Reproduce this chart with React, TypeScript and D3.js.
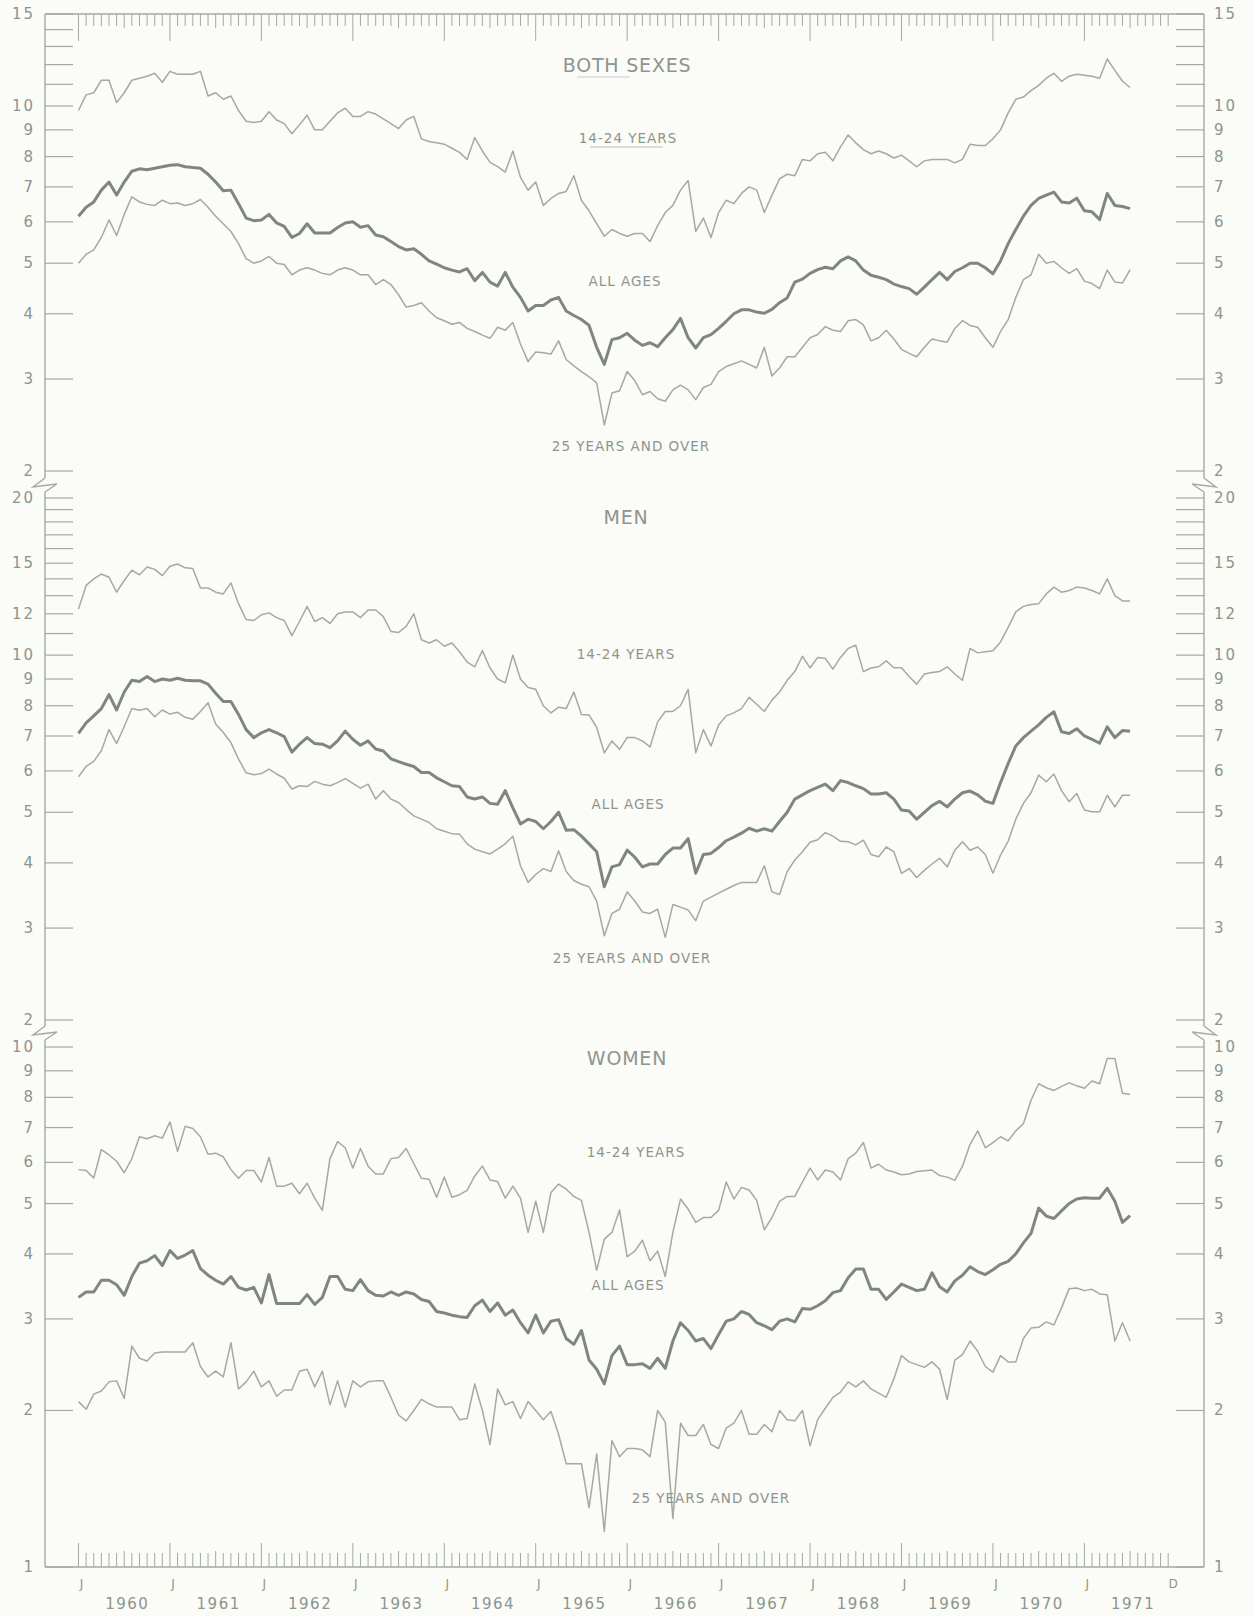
import React from "react";
import * as d3 from "d3";

// Monthly unemployment rates (per cent), index 0 = Jan 1960 ... 138 = Jul 1971
const YEARS = [1960, 1961, 1962, 1963, 1964, 1965, 1966, 1967, 1968, 1969, 1970, 1971];
const LAST_AXIS_MONTH = 143; // Dec 1971

const BS_YOUTH = [
  9.8, 10.5, 10.6, 11.2, 11.2, 10.15, 10.6, 11.2, 11.3, 11.4, 11.55, 11.1,
  11.65, 11.5, 11.5, 11.5, 11.65, 10.45, 10.6, 10.3, 10.45, 9.8, 9.35, 9.3,
  9.35, 9.75, 9.4, 9.25, 8.85, 9.2, 9.6, 9.0, 9.0, 9.35, 9.7, 9.9,
  9.55, 9.55, 9.75, 9.65, 9.45, 9.25, 9.05, 9.4, 9.55, 8.65, 8.55, 8.5,
  8.45, 8.3, 8.15, 7.9, 8.7, 8.2, 7.8, 7.65, 7.47, 8.2, 7.3, 6.9,
  7.15, 6.45, 6.65, 6.8, 6.86, 7.35, 6.6, 6.3, 5.95, 5.63, 5.8, 5.7,
  5.63, 5.7, 5.7, 5.5, 5.9, 6.25, 6.45, 6.9, 7.2, 5.75, 6.1, 5.6,
  6.25, 6.6, 6.5, 6.8, 7.0, 6.9, 6.25, 6.75, 7.25, 7.4, 7.35, 7.9,
  7.85, 8.1, 8.15, 7.85, 8.35, 8.8, 8.5, 8.25, 8.1, 8.2, 8.1, 7.95,
  8.05, 7.85, 7.65, 7.85, 7.9, 7.9, 7.9, 7.78, 7.9, 8.45, 8.4, 8.4,
  8.65, 9.0, 9.7, 10.3, 10.4, 10.7, 10.95, 11.3, 11.55, 11.15, 11.4, 11.5,
  11.45, 11.4, 11.3, 12.3, 11.7, 11.15, 10.85,
];
const BS_ALL = [
  6.15, 6.4, 6.55, 6.9, 7.15, 6.75, 7.15, 7.5, 7.58, 7.55, 7.6, 7.65,
  7.7, 7.72, 7.65, 7.62, 7.6, 7.4, 7.15, 6.88, 6.9, 6.5, 6.1, 6.03,
  6.05, 6.2, 5.97, 5.88, 5.6, 5.7, 5.95, 5.71, 5.71, 5.71, 5.85, 5.97,
  6.0, 5.86, 5.9, 5.66, 5.62, 5.5, 5.38, 5.3, 5.33, 5.2, 5.05, 4.98,
  4.9, 4.85, 4.81, 4.88, 4.63, 4.8, 4.6, 4.52, 4.8, 4.5, 4.3, 4.05,
  4.15, 4.15, 4.25, 4.3, 4.05, 3.97, 3.9, 3.8, 3.45, 3.2, 3.57, 3.6,
  3.67, 3.56, 3.48, 3.52, 3.46, 3.6, 3.73, 3.92, 3.6, 3.44, 3.6, 3.65,
  3.75, 3.87, 4.0, 4.07, 4.07, 4.03, 4.01, 4.08, 4.2, 4.29, 4.6, 4.66,
  4.78, 4.86, 4.91, 4.88, 5.05, 5.14, 5.05, 4.85, 4.74, 4.7, 4.65, 4.56,
  4.51, 4.47, 4.36, 4.5, 4.65, 4.8, 4.65, 4.82, 4.9, 5.0, 5.0, 4.9,
  4.77, 5.05, 5.45, 5.8, 6.15, 6.45, 6.65, 6.75, 6.84, 6.55, 6.52, 6.66,
  6.3, 6.27, 6.06, 6.8, 6.45, 6.42, 6.36,
];
const BS_OLD = [
  5.0, 5.2, 5.3, 5.6, 6.05, 5.65, 6.2, 6.7, 6.55, 6.48, 6.45, 6.6,
  6.5, 6.52, 6.45, 6.5, 6.62, 6.4, 6.15, 5.95, 5.75, 5.45, 5.1, 5.0,
  5.05, 5.15, 5.0, 4.97, 4.75, 4.85, 4.9, 4.85, 4.78, 4.75, 4.85, 4.9,
  4.85, 4.75, 4.75, 4.55, 4.65, 4.55, 4.35, 4.12, 4.15, 4.2, 4.05, 3.93,
  3.88, 3.82, 3.85, 3.75, 3.7, 3.64, 3.59, 3.77, 3.72, 3.85, 3.5, 3.24,
  3.38, 3.37, 3.35, 3.55, 3.27, 3.18, 3.1, 3.03, 2.95, 2.45, 2.82, 2.85,
  3.1, 2.98, 2.8, 2.84, 2.75, 2.72, 2.86, 2.92, 2.86, 2.74, 2.89, 2.93,
  3.1, 3.17, 3.21, 3.25, 3.2, 3.15, 3.45, 3.04, 3.15, 3.31, 3.31, 3.45,
  3.6, 3.65, 3.78, 3.72, 3.7, 3.88, 3.9, 3.81, 3.55, 3.6, 3.72, 3.58,
  3.42, 3.36, 3.31, 3.45, 3.58, 3.55, 3.53, 3.75, 3.88, 3.8, 3.77, 3.6,
  3.45, 3.7, 3.9, 4.3, 4.65, 4.75, 5.2, 5.0, 5.04, 4.9, 4.78, 4.88,
  4.62, 4.57, 4.47, 4.85, 4.6, 4.58, 4.86,
];

const MEN_YOUTH = [
  12.25, 13.6, 14.0, 14.3, 14.1, 13.2, 13.9, 14.55, 14.25, 14.75, 14.6, 14.2,
  14.8, 14.95, 14.7, 14.65, 13.45, 13.45, 13.2, 13.1, 13.75, 12.55, 11.7, 11.65,
  11.95, 12.05, 11.8, 11.65, 10.9, 11.6, 12.4, 11.6, 11.8, 11.5, 12.0, 12.1,
  12.1, 11.8, 12.2, 12.2, 11.85, 11.1, 11.05, 11.35, 12.0, 10.7, 10.55, 10.7,
  10.4, 10.55, 10.15, 9.7, 9.5, 10.2, 9.45, 9.0, 8.85, 10.0, 9.0, 8.67,
  8.6, 8.0, 7.75, 7.95, 7.9, 8.5, 7.7, 7.68, 7.27, 6.5, 6.85, 6.6,
  6.95, 6.95, 6.85, 6.67, 7.45, 7.8, 7.8, 8.0, 8.6, 6.5, 7.2, 6.7,
  7.35, 7.65, 7.75, 7.9, 8.3, 8.05, 7.8, 8.2, 8.5, 8.95, 9.3, 9.95,
  9.45, 9.9, 9.86, 9.4, 9.9, 10.3, 10.45, 9.3, 9.45, 9.5, 9.75, 9.46,
  9.46, 9.1, 8.8, 9.2, 9.26, 9.3, 9.5, 9.2, 8.95, 10.3, 10.1, 10.15,
  10.2, 10.6, 11.3, 12.1, 12.4, 12.5, 12.55, 13.1, 13.5, 13.2, 13.3, 13.5,
  13.45, 13.3, 13.1, 14.0, 13.0, 12.7, 12.7,
];
const MEN_ALL = [
  7.08, 7.42, 7.65, 7.9, 8.4, 7.85, 8.5, 8.95, 8.9, 9.1, 8.9, 9.0,
  8.95, 9.03, 8.95, 8.93, 8.93, 8.8, 8.45, 8.15, 8.15, 7.7, 7.2, 6.95,
  7.1, 7.2, 7.1, 6.98, 6.52, 6.75, 6.95, 6.77, 6.75, 6.65, 6.85, 7.15,
  6.9, 6.72, 6.85, 6.61, 6.55, 6.33, 6.25, 6.18, 6.12, 5.96, 5.96, 5.82,
  5.72, 5.62, 5.6, 5.35, 5.3, 5.35, 5.2, 5.18, 5.5, 5.1, 4.75, 4.85,
  4.8, 4.65, 4.8, 5.0, 4.62, 4.63, 4.5, 4.35, 4.2, 3.6, 3.93, 3.97,
  4.23, 4.1, 3.93, 3.98, 3.98, 4.15, 4.27, 4.27, 4.45, 3.82, 4.15, 4.17,
  4.28, 4.41, 4.48, 4.56, 4.66, 4.6, 4.65, 4.6, 4.8, 5.0, 5.3, 5.4,
  5.5, 5.58, 5.66, 5.5, 5.75, 5.7, 5.62, 5.55, 5.42, 5.42, 5.45, 5.3,
  5.05, 5.03, 4.85, 5.0, 5.15, 5.25, 5.12, 5.3, 5.45, 5.49, 5.4, 5.25,
  5.2, 5.7, 6.2, 6.7, 6.95, 7.15, 7.35, 7.6, 7.79, 7.13, 7.08, 7.23,
  7.0, 6.9, 6.78, 7.29, 6.95, 7.17, 7.15,
];
const MEN_OLD = [
  5.85, 6.12, 6.26, 6.56, 7.2, 6.77, 7.3, 7.9, 7.84, 7.9, 7.62, 7.85,
  7.71, 7.77, 7.6, 7.54, 7.8, 8.11, 7.38, 7.11, 6.8, 6.32, 5.95, 5.9,
  5.93, 6.05, 5.92, 5.81, 5.54, 5.62, 5.6, 5.73, 5.66, 5.62, 5.7, 5.8,
  5.68, 5.56, 5.66, 5.3, 5.5, 5.3, 5.22, 5.06, 4.92, 4.85, 4.78, 4.65,
  4.6, 4.55, 4.54, 4.35, 4.25, 4.2, 4.16, 4.25, 4.35, 4.5, 3.95, 3.67,
  3.8, 3.9, 3.85, 4.22, 3.85, 3.7, 3.64, 3.6, 3.38, 2.9, 3.2, 3.26,
  3.52, 3.38, 3.22, 3.2, 3.26, 2.88, 3.33, 3.29, 3.25, 3.1, 3.38, 3.44,
  3.5, 3.56, 3.62, 3.67, 3.67, 3.67, 3.95, 3.52, 3.48, 3.85, 4.05, 4.2,
  4.38, 4.43, 4.57, 4.5, 4.4, 4.39, 4.33, 4.42, 4.15, 4.11, 4.29, 4.2,
  3.82, 3.9, 3.75, 3.87, 3.98, 4.08, 3.93, 4.23, 4.39, 4.23, 4.29, 4.15,
  3.82, 4.14, 4.4, 4.85, 5.2, 5.45, 5.89, 5.72, 5.92, 5.5, 5.24, 5.43,
  5.05, 5.01, 5.01, 5.39, 5.12, 5.39, 5.39,
];

const WOMEN_YOUTH = [
  5.81, 5.79, 5.6, 6.35, 6.2, 6.03, 5.73, 6.1, 6.72, 6.66, 6.75, 6.68,
  7.18, 6.3, 7.04, 6.97, 6.72, 6.22, 6.25, 6.15, 5.81, 5.59, 5.79, 5.79,
  5.5, 6.13, 5.4, 5.4, 5.47, 5.22, 5.47, 5.12, 4.85, 6.1, 6.58, 6.4,
  5.85, 6.38, 5.9, 5.7, 5.7, 6.1, 6.13, 6.38, 5.97, 5.59, 5.57, 5.14,
  5.62, 5.14, 5.2, 5.3, 5.65, 5.9, 5.55, 5.51, 5.12, 5.4, 5.12, 4.4,
  5.05, 4.4, 5.25, 5.45, 5.33, 5.16, 5.07, 4.4, 3.72, 4.27, 4.4, 4.86,
  3.95, 4.05, 4.25, 3.88, 4.05, 3.62, 4.4, 5.1, 4.88, 4.6, 4.7, 4.7,
  4.85, 5.5, 5.1, 5.37, 5.31, 5.07, 4.45, 4.7, 5.05, 5.16, 5.16, 5.5,
  5.85, 5.55, 5.8, 5.75, 5.55, 6.1, 6.25, 6.55, 5.85, 5.95, 5.8, 5.75,
  5.68, 5.7, 5.76, 5.78, 5.8, 5.66, 5.62, 5.54, 5.9, 6.5, 6.9, 6.4,
  6.55, 6.72, 6.6, 6.9, 7.12, 7.9, 8.5, 8.35, 8.25, 8.4, 8.53, 8.42,
  8.33, 8.6, 8.5, 9.5, 9.5, 8.15, 8.1,
];
const WOMEN_ALL = [
  3.3, 3.38, 3.38, 3.56, 3.56, 3.49, 3.33, 3.62, 3.84, 3.88, 3.97, 3.8,
  4.06, 3.92, 3.98, 4.06, 3.75, 3.64, 3.56, 3.5, 3.62, 3.45, 3.41, 3.45,
  3.22, 3.65, 3.21, 3.21, 3.21, 3.21, 3.34, 3.2, 3.3, 3.62, 3.62, 3.42,
  3.4, 3.57, 3.4, 3.33, 3.32, 3.38, 3.33, 3.38, 3.35, 3.27, 3.24, 3.1,
  3.08, 3.05, 3.03, 3.02, 3.18, 3.26, 3.1, 3.22, 3.05, 3.12, 2.95, 2.82,
  3.05, 2.82, 2.97, 2.99, 2.75, 2.68, 2.85, 2.5, 2.4, 2.25, 2.55, 2.66,
  2.45, 2.45, 2.46, 2.41, 2.52, 2.41, 2.72, 2.95, 2.85, 2.72, 2.75, 2.63,
  2.8, 2.97, 3.0, 3.1, 3.06, 2.95, 2.91, 2.86, 2.97, 3.0, 2.96, 3.14,
  3.13, 3.18, 3.25, 3.37, 3.4, 3.6, 3.74, 3.74, 3.42, 3.42, 3.27, 3.38,
  3.5, 3.45, 3.4, 3.42, 3.68, 3.46, 3.38, 3.55, 3.64, 3.78, 3.7, 3.65,
  3.73, 3.82, 3.87, 4.0, 4.2, 4.38, 4.9, 4.73, 4.68, 4.84, 5.0, 5.1,
  5.13, 5.12, 5.12, 5.35, 5.05, 4.6, 4.74,
];
const WOMEN_OLD = [
  2.08, 2.01, 2.15, 2.18, 2.27, 2.28, 2.11, 2.66, 2.52, 2.49, 2.58, 2.59,
  2.59, 2.59, 2.59, 2.7, 2.43, 2.32, 2.38, 2.32, 2.7, 2.2, 2.27, 2.38,
  2.22, 2.28, 2.13, 2.19, 2.19, 2.38, 2.4, 2.22, 2.38, 2.05, 2.28, 2.03,
  2.28, 2.22, 2.27, 2.28, 2.28, 2.12, 1.96, 1.91, 2.0, 2.1, 2.06, 2.03,
  2.03, 2.03, 1.92, 1.93, 2.25, 2.0, 1.72, 2.2, 2.05, 2.08, 1.93, 2.08,
  2.0, 1.92, 1.99, 1.8, 1.58, 1.58, 1.58, 1.3, 1.65, 1.17, 1.75, 1.63,
  1.69, 1.69, 1.68, 1.63, 2.0, 1.9, 1.24, 1.89, 1.79, 1.79, 1.88, 1.72,
  1.69, 1.85, 1.89, 2.0, 1.8, 1.8, 1.88, 1.82, 2.0, 1.92, 1.91, 2.0,
  1.71, 1.92, 2.02, 2.12, 2.17, 2.27, 2.22, 2.28, 2.2, 2.16, 2.12, 2.3,
  2.55, 2.48, 2.45, 2.42, 2.48, 2.4, 2.1, 2.5, 2.56, 2.72, 2.6, 2.43,
  2.37, 2.55, 2.48, 2.48, 2.75, 2.88, 2.89, 2.96, 2.92, 3.15, 3.43, 3.44,
  3.4, 3.42, 3.35, 3.34, 2.72, 2.95, 2.72,
];

const TICKS_BS = [2, 3, 4, 5, 6, 7, 8, 9, 10, 11, 12, 13, 14, 15];
const LABELS_BS = [2, 3, 4, 5, 6, 7, 8, 9, 10, 15];
const TICKS_MEN = [2, 3, 4, 5, 6, 7, 8, 9, 10, 11, 12, 13, 14, 15, 16, 17, 18, 19, 20];
const LABELS_MEN = [2, 3, 4, 5, 6, 7, 8, 9, 10, 12, 15, 20];
const TICKS_WOMEN = [1, 2, 3, 4, 5, 6, 7, 8, 9, 10];
const LABELS_WOMEN = [1, 2, 3, 4, 5, 6, 7, 8, 9, 10];
const PANEL_TITLES = ["BOTH SEXES", "MEN", "WOMEN"];
const SERIES_NAMES = ["14-24 YEARS", "ALL AGES", "25 YEARS AND OVER"];

// ---------- layout ----------
const W = 1253;
const H = 1616;
const LEFT = 45;
const RIGHT = 1204;
const TOP = 14;
const BOTTOM = 1567;
const BG = "#fbfbf8";
const THIN = "#a2aaa3";
const THICK = "#7d877f";
const TEXT = "#8c958e";
const FONT = "'DejaVu Sans', 'Open Sans', sans-serif";

const x = d3.scaleLinear().domain([0, LAST_AXIS_MONTH]).range([78.5, 1168.2]);

const panels = [
  {
    title: PANEL_TITLES[0],
    y: d3.scaleLog().domain([2, 15]).range([471, 14]),
    ticks: TICKS_BS,
    labels: LABELS_BS,
    series: [BS_YOUTH, BS_ALL, BS_OLD],
    titlePos: [627, 72],
    namePos: [[628, 143], [625, 286], [631, 451]],
  },
  {
    title: PANEL_TITLES[1],
    y: d3.scaleLog().domain([2, 20]).range([1020, 498]),
    ticks: TICKS_MEN,
    labels: LABELS_MEN,
    series: [MEN_YOUTH, MEN_ALL, MEN_OLD],
    titlePos: [626, 524],
    namePos: [[626, 659], [628, 809], [632, 963]],
  },
  {
    title: PANEL_TITLES[2],
    y: d3.scaleLog().domain([1, 10]).range([1567, 1047]),
    ticks: TICKS_WOMEN,
    labels: LABELS_WOMEN,
    series: [WOMEN_YOUTH, WOMEN_ALL, WOMEN_OLD],
    titlePos: [627, 1065],
    namePos: [[636, 1157], [628, 1290], [711, 1503]],
  },
];

const BREAKS = [485, 1033];

function axisPath(ax: number, dir: number) {
  const parts: string[] = [];
  let y0 = TOP;
  BREAKS.forEach((b) => {
    parts.push(`M${ax},${y0}V${b - 7}`);
    parts.push(`M${ax},${b - 7}L${ax - 12 * dir},${b + 2}L${ax + 12 * dir},${b - 1}L${ax},${b + 7}`);
    y0 = b + 7;
  });
  parts.push(`M${ax},${y0}V${BOTTOM}`);
  return parts.join("");
}

export default function App() {
  const months = d3.range(0, LAST_AXIS_MONTH + 1);
  return (
    <svg
      width={W}
      height={H}
      viewBox={`0 0 ${W} ${H}`}
      style={{ position: "absolute", left: 0, top: 0, background: BG }}
      fontFamily={FONT}
    >
      <rect x={0} y={0} width={W} height={H} fill={BG} />

      {/* frame */}
      <line x1={LEFT} x2={RIGHT} y1={TOP} y2={TOP} stroke={THIN} strokeWidth={1.4} />
      <line x1={LEFT} x2={RIGHT} y1={BOTTOM} y2={BOTTOM} stroke={THIN} strokeWidth={1.4} />
      <path d={axisPath(LEFT, 1)} fill="none" stroke={THIN} strokeWidth={1.4} />
      <path d={axisPath(RIGHT, -1)} fill="none" stroke={THIN} strokeWidth={1.4} />

      {/* month ticks top and bottom */}
      {months.map((m) => {
        const len = m % 12 === 0 ? 27 : m % 12 === 6 ? 14 : 12;
        const lenB = m % 12 === 0 ? 24 : m % 12 === 6 ? 16 : 14;
        return (
          <g key={"mt" + m} stroke={THIN} strokeWidth={1}>
            <line x1={x(m)} x2={x(m)} y1={TOP} y2={TOP + len} />
            <line x1={x(m)} x2={x(m)} y1={BOTTOM} y2={BOTTOM - lenB} />
          </g>
        );
      })}

      {/* month letters and years */}
      {YEARS.map((yr, i) => (
        <g key={"yr" + yr} fill={TEXT}>
          <text x={x(i * 12) + 3} y={1588} fontSize={12} textAnchor="middle">J</text>
          <text x={x(i * 12 + 6) + 3} y={1609} fontSize={15} textAnchor="middle" letterSpacing={1.5}>
            {yr}
          </text>
        </g>
      ))}
      <text x={x(LAST_AXIS_MONTH) + 5} y={1588} fontSize={12} textAnchor="middle" fill={TEXT}>D</text>

      {panels.map((p, pi) => {
        const line = d3
          .line<number>()
          .x((_, i) => x(i))
          .y((d) => p.y(d))
          .curve(d3.curveLinear);
        return (
          <g key={"p" + pi}>
            {p.ticks.map((t) => (
              <g key={"t" + t} stroke={THIN} strokeWidth={1.2}>
                <line x1={LEFT} x2={LEFT + 28} y1={p.y(t)} y2={p.y(t)} />
                <line x1={RIGHT - 28} x2={RIGHT} y1={p.y(t)} y2={p.y(t)} />
              </g>
            ))}
            {p.labels.map((t) => (
              <g key={"l" + t} fill={TEXT} fontSize={15} letterSpacing={2}>
                <text x={35} y={p.y(t) + 5} textAnchor="end">{t}</text>
                <text x={1214} y={p.y(t) + 5} textAnchor="start">{t}</text>
              </g>
            ))}

            <path d={line(p.series[0]) || ""} fill="none" stroke={THIN} strokeWidth={1.5} strokeLinejoin="round" />
            <path d={line(p.series[2]) || ""} fill="none" stroke={THIN} strokeWidth={1.5} strokeLinejoin="round" />
            <path d={line(p.series[1]) || ""} fill="none" stroke={THICK} strokeWidth={3} strokeLinejoin="round" />

            <text x={p.titlePos[0]} y={p.titlePos[1]} fontSize={19} textAnchor="middle" fill={TEXT} letterSpacing={0.8}>
              {p.title}
            </text>
            {SERIES_NAMES.map((n, si) => (
              <text
                key={"n" + si}
                x={p.namePos[si][0]}
                y={p.namePos[si][1]}
                fontSize={13.5}
                textAnchor="middle"
                fill={TEXT}
                letterSpacing={1}
              >
                {n}
              </text>
            ))}
          </g>
        );
      })}

      <line x1={577} x2={630} y1={77} y2={77} stroke="#c9cec9" strokeWidth={1.2} />
      <line x1={590} x2={663} y1={147} y2={147} stroke="#b9bfb9" strokeWidth={1.2} />
    </svg>
  );
}
